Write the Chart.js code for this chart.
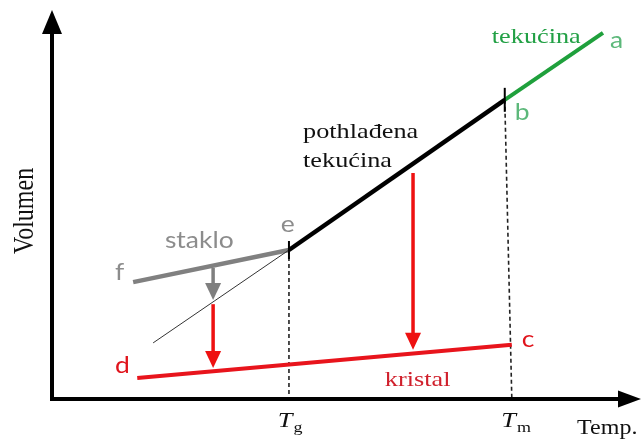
<!DOCTYPE html>
<html>
<head>
<meta charset="utf-8">
<script src="https://cdn.jsdelivr.net/npm/chart.js@4.4.1/dist/chart.umd.min.js"></script>
<style>
html,body{margin:0;padding:0;background:#fff;}
#wrap{width:642px;height:439px;position:relative;}
</style>
</head>
<body>
<div id="wrap"><canvas id="c" width="642" height="439"></canvas></div>
<script>
// ---- data (axis units: 0..100 on both axes) ----
const liquidLine   = [{x:77.0,y:77.3},{x:93.7,y:94.6}];   // b -> a  (tekućina)
const supercooled  = [{x:40.3,y:38.5},{x:77.0,y:77.3}];   // e -> b  (pothlađena tekućina)
const glassLine    = [{x:13.8,y:30.2},{x:40.3,y:38.5}];   // f -> e  (staklo)
const extrapolated = [{x:17.2,y:14.5},{x:40.3,y:38.5}];   // thin continuation below Tg
const crystalLine  = [{x:14.5,y:5.4},{x:78.2,y:14.0}];    // d -> c  (kristal)
const tg = 40.3, tm = 78.2;
const tmTop = {x:77.0,y:77.3};
const tgTop = {x:40.3,y:38.5};
// vertical arrows: [x, yFrom, yTo, colour]
const arrows = [
  [27.4, 33.9, 25.6, '#7f7f7f'],
  [27.4, 24.5, 8.0, '#ee1111'],
  [61.4, 58.4, 12.7, '#ee1111']
];
// annotation labels: text, x, y (baseline-left, axis units)
const serifLabels = [
  ['tekućina', 74.8, 92.0, '#22a045'],
  ['pothlađena', 42.7, 67.4, '#111111'],
  ['tekućina', 42.7, 59.9, '#111111'],
  ['kristal', 56.6, 3.4, '#d0202c']
];
const sansLabels = [
  ['a', 94.9, 90.7, '#5cb87a'],
  ['b', 78.7, 72.1, '#5cb87a'],
  ['staklo', 19.2, 39.0, '#8c8c8c'],
  ['e', 38.9, 43.2, '#8c8c8c'],
  ['f', 10.7, 30.7, '#8c8c8c'],
  ['d', 10.7, 6.7, '#e0141c'],
  ['c', 79.9, 13.4, '#e0141c']
];
const tempLabels = [['T','g', 38.4], ['T','m', 76.4]];
const xTitle = 'Temp.';
const yTitle = 'Volumen';

const SERIF = '"Liberation Serif", "Times New Roman", serif';
const SANS = 'Lato, "Liberation Sans", sans-serif';
const STRETCH = 1.25;
function stext(ctx, t, x, y, font, color, sx){
  ctx.save();
  ctx.font = font; ctx.fillStyle = color;
  ctx.textAlign = 'left'; ctx.textBaseline = 'alphabetic';
  ctx.translate(x, y); ctx.scale(sx || STRETCH, 1);
  ctx.fillText(t, 0, 0);
  ctx.restore();
}

const drawPlugin = {
  id: 'diagram',
  beforeDatasetsDraw(chart){
    const ctx = chart.ctx, xs = chart.scales.x, ys = chart.scales.y;
    const X = v => xs.getPixelForValue(v), Y = v => ys.getPixelForValue(v);
    ctx.save();
    ctx.strokeStyle = '#222'; ctx.lineWidth = 1.6; ctx.setLineDash([4,3]);
    ctx.beginPath(); ctx.moveTo(X(tgTop.x), Y(tgTop.y)); ctx.lineTo(X(tg), Y(0)); ctx.stroke();
    ctx.beginPath(); ctx.moveTo(X(tmTop.x), Y(tmTop.y)); ctx.lineTo(X(tm), Y(0)); ctx.stroke();
    ctx.setLineDash([]);
    ctx.restore();
  },
  afterDatasetsDraw(chart){
    const ctx = chart.ctx, xs = chart.scales.x, ys = chart.scales.y;
    const X = v => xs.getPixelForValue(v), Y = v => ys.getPixelForValue(v);
    ctx.save();
    const ox = X(0), oy = Y(0), ex = X(100), ey = Y(100);
    ctx.strokeStyle = '#000'; ctx.fillStyle = '#000'; ctx.lineWidth = 4;
    ctx.beginPath(); ctx.moveTo(ox, oy); ctx.lineTo(ex - 20, oy); ctx.stroke();
    ctx.beginPath(); ctx.moveTo(ox, oy + 2); ctx.lineTo(ox, ey + 20); ctx.stroke();
    ctx.beginPath(); ctx.moveTo(ex - 22, oy - 8.5); ctx.lineTo(ex + 1, oy); ctx.lineTo(ex - 22, oy + 8.5); ctx.closePath(); ctx.fill();
    ctx.beginPath(); ctx.moveTo(ox - 10, ey + 22); ctx.lineTo(ox, ey - 2); ctx.lineTo(ox + 10, ey + 22); ctx.closePath(); ctx.fill();
    ctx.lineWidth = 2;
    [[tgTop, 9], [tmTop, 12]].forEach(([p, h]) => {
      ctx.beginPath(); ctx.moveTo(X(p.x), Y(p.y) - h); ctx.lineTo(X(p.x), Y(p.y) + h); ctx.stroke();
    });
    arrows.forEach(([ax, y0, y1, col]) => {
      const px = X(ax), p0 = Y(y0), p1 = Y(y1);
      ctx.strokeStyle = col; ctx.fillStyle = col; ctx.lineWidth = 3.5;
      ctx.beginPath(); ctx.moveTo(px, p0); ctx.lineTo(px, p1 - 15); ctx.stroke();
      ctx.beginPath(); ctx.moveTo(px - 8, p1 - 17); ctx.lineTo(px, p1); ctx.lineTo(px + 8, p1 - 17); ctx.closePath(); ctx.fill();
    });
    serifLabels.forEach(([t, x, y, c]) => stext(ctx, t, X(x), Y(y), '21px ' + SERIF, c));
    sansLabels.forEach(([t, x, y, c]) => stext(ctx, t, X(x), Y(y), '23px ' + SANS, c, 1.15));
    tempLabels.forEach(([t, s, x]) => {
      const px = X(x), py = Y(-7.2);
      ctx.font = 'italic 22px ' + SERIF;
      const w = ctx.measureText(t).width * 1.2;
      stext(ctx, t, px, py, 'italic 22px ' + SERIF, '#111', 1.2);
      stext(ctx, s, px + w + 1, py + 5, '15px ' + SERIF, '#111', 1.2);
    });
    stext(ctx, xTitle, X(89.3), Y(-9.0), '20px ' + SERIF, '#111', 1.2);
    ctx.save();
    ctx.font = '24px ' + SERIF; ctx.fillStyle = '#111';
    ctx.textAlign = 'center'; ctx.textBaseline = 'alphabetic';
    ctx.translate(33, Y(48.6)); ctx.scale(1.2, 1); ctx.rotate(-Math.PI / 2);
    ctx.fillText(yTitle, 0, 0);
    ctx.restore();
    ctx.restore();
  }
};

function ds(data, color, width){
  return {data, borderColor: color, backgroundColor: color, borderWidth: width,
          showLine: true, pointRadius: 0, fill: false, tension: 0, clip: false, borderCapStyle: 'butt'};
}

new Chart(document.getElementById('c'), {
  type: 'scatter',
  data: {datasets: [
    ds(extrapolated, '#333333', 1),
    ds(crystalLine, '#e8141c', 4),
    ds(glassLine, '#808080', 4.5),
    ds(supercooled, '#000000', 4.5),
    ds(liquidLine, '#1fa03c', 4)
  ]},
  options: {
    responsive: false, animation: false, devicePixelRatio: 1,
    layout: {padding: {left: 52, right: 2, top: 12, bottom: 40}},
    plugins: {legend: {display: false}, tooltip: {enabled: false}, title: {display: false}},
    scales: {
      x: {type: 'linear', min: 0, max: 100, display: false},
      y: {type: 'linear', min: 0, max: 100, display: false}
    }
  },
  plugins: [drawPlugin]
});
</script>
</body>
</html>
